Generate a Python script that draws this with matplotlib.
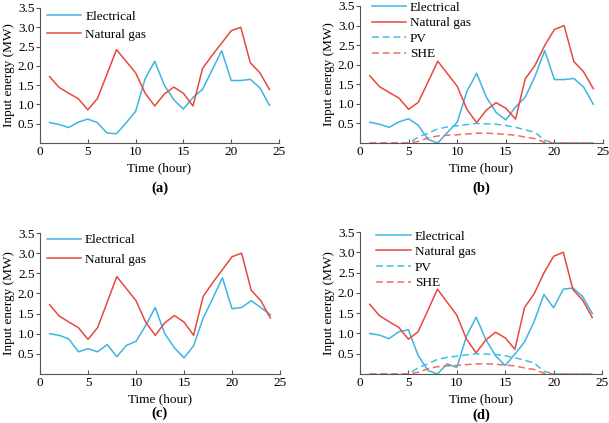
import matplotlib
matplotlib.use("Agg")
import matplotlib.pyplot as plt

plt.rcParams['font.family'] = ['Liberation Serif', 'DejaVu Serif']
plt.rcParams['mathtext.fontset'] = 'stix'

hours = list(range(1, 25))

elec_a = [0.53, 0.48, 0.40, 0.54, 0.62, 0.53, 0.26, 0.24, 0.52, 0.82, 1.67, 2.12,
          1.50, 1.12, 0.88, 1.18, 1.39, 1.89, 2.39, 1.62, 1.62, 1.65, 1.43, 0.98]
gas_a = [1.72, 1.44, 1.29, 1.15, 0.86, 1.15, 1.78, 2.42, 2.12, 1.82, 1.29, 0.96,
         1.27, 1.45, 1.29, 0.96, 1.93, 2.27, 2.59, 2.91, 3.00, 2.08, 1.82, 1.39]

elec_b = [0.53, 0.48, 0.40, 0.54, 0.62, 0.45, 0.09, 0.00, 0.27, 0.53, 1.32, 1.78,
          1.17, 0.78, 0.59, 0.92, 1.17, 1.70, 2.36, 1.62, 1.62, 1.65, 1.43, 0.99]
gas_b = [1.72, 1.44, 1.29, 1.15, 0.86, 1.04, 1.56, 2.09, 1.77, 1.45, 0.86, 0.52,
         0.84, 1.03, 0.89, 0.61, 1.64, 1.98, 2.49, 2.90, 3.00, 2.08, 1.82, 1.39]

elec_c = [1.00, 0.96, 0.87, 0.55, 0.63, 0.55, 0.73, 0.43, 0.71, 0.81, 1.20, 1.65,
          1.00, 0.65, 0.40, 0.70, 1.39, 1.88, 2.39, 1.62, 1.65, 1.82, 1.65, 1.47]
gas_c = gas_a

elec_d = [1.00, 0.96, 0.87, 1.04, 1.09, 0.46, 0.09, 0.00, 0.25, 0.16, 0.93, 1.40,
          0.85, 0.45, 0.21, 0.49, 0.79, 1.30, 1.96, 1.63, 2.09, 2.12, 1.91, 1.49]
gas_d = gas_b

pv = [0, 0, 0, 0, 0, 0.15, 0.25, 0.36, 0.41, 0.44, 0.47, 0.50,
      0.49, 0.48, 0.45, 0.40, 0.34, 0.27, 0.07, 0, 0, 0, 0, 0]
she = [0, 0, 0, 0, 0, 0.04, 0.13, 0.18, 0.20, 0.21, 0.23, 0.25,
       0.25, 0.24, 0.22, 0.20, 0.15, 0.11, 0.02, 0, 0, 0, 0, 0]

xticks = [0, 5, 10, 15, 20, 25]
yticks = [0.5, 1.0, 1.5, 2.0, 2.5, 3.0, 3.5]
ytick_labels = ['0.5', '1.0', '1.5', '2.0', '2.5', '3.0', '3.5']
panel_labels = ['(a)', '(b)', '(c)', '(d)']

C_E = '#3db5e0'
C_G = '#e8483e'
C_PV = '#45bde6'
C_SHE = '#ec7060'

W, H = 609, 423
fig = plt.figure(figsize=(W / 100, H / 100), dpi=100)

FS = 9.5

panels = [
    # axes box (left, top, right, bottom) px, elec, gas, with_pv, legend anchor, labelspacing, label pos px
    ((40, 8, 279, 143), elec_a, gas_a, False, (-0.01, 1.05), 0.45, (160, 188)),
    ((360, 6, 603, 143), elec_b, gas_b, True, (0.01, 1.10), 0.25, (481, 188)),
    ((40, 233, 280, 374), elec_c, gas_c, False, (-0.01, 1.057), 0.55, (160, 413)),
    ((360, 232, 602, 374), elec_d, gas_d, True, (0.03, 1.077), 0.25, (481, 415)),
]

for (box, el, ga, with_pv, anchor, lsp, lpos), lab in zip(panels, panel_labels):
    l, t, r, b = box
    ax = fig.add_axes([l / W, 1 - b / H, (r - l) / W, (b - t) / H])
    ax.plot(hours, el, color=C_E, lw=1.1, label='Electrical')
    ax.plot(hours, ga, color=C_G, lw=1.1, label='Natural gas')
    if with_pv:
        ax.plot(hours, pv, color=C_PV, lw=1.1, ls=(0, (4.5, 2.5)), label='PV')
        ax.plot(hours, she, color=C_SHE, lw=1.1, ls=(0, (4.5, 2.5)), label='SHE')
    ax.set_xlim(0, 25)
    ax.set_ylim(0, 3.5)
    ax.set_xticks(xticks)
    ax.set_yticks(yticks)
    ax.set_yticklabels(ytick_labels)
    for s in ('top', 'right'):
        ax.spines[s].set_visible(False)
    for s in ('left', 'bottom'):
        ax.spines[s].set_color('#555555')
        ax.spines[s].set_linewidth(0.8)
    ax.tick_params(axis='x', direction='in', length=3, width=0.8, color='#555555',
                   labelsize=FS, pad=2)
    ax.tick_params(axis='y', direction='out', length=3, width=0.8, color='#555555',
                   labelsize=FS, pad=1)
    ax.set_xlabel('Time (hour)', fontsize=FS, labelpad=3)
    ax.set_ylabel('Input energy (MW)', fontsize=FS, labelpad=2)
    ax.legend(loc='upper left', bbox_to_anchor=anchor, frameon=False, fontsize=FS,
              handlelength=2.6, handletextpad=0.3, labelspacing=lsp, borderpad=0.2)
    fig.text(lpos[0] / W, 1 - lpos[1] / H, lab, ha='center', va='center',
             fontsize=10.5, fontweight='bold')

fig.savefig('out.png', dpi=100)
